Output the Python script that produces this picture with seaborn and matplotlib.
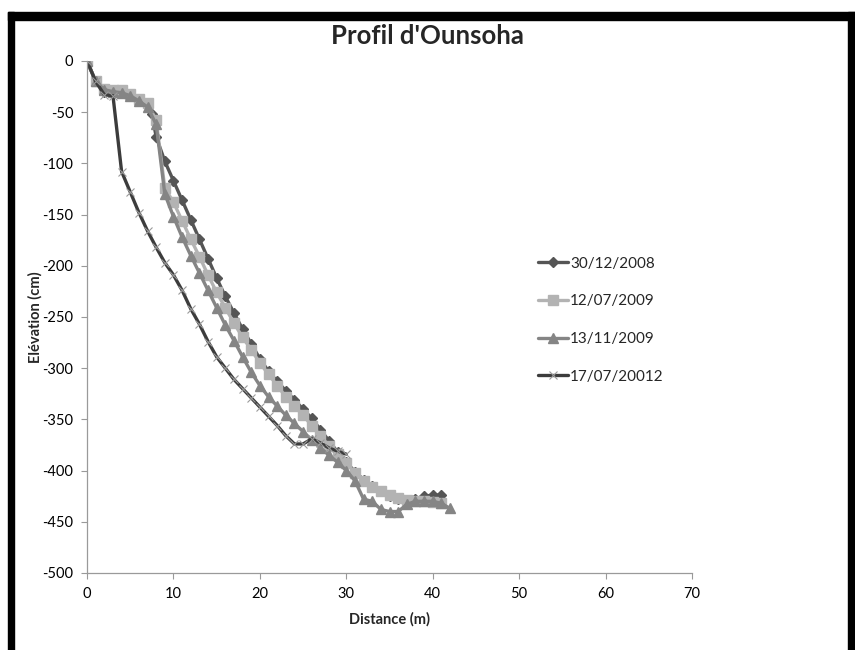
import matplotlib
matplotlib.use("Agg")
import matplotlib.pyplot as plt
import seaborn as sns
import pandas as pd

# Survey dates (legend labels)
series_labels = ["30/12/2008", "12/07/2009", "13/11/2009", "17/07/20012"]

# Profile 30/12/2008
dist_2008_12 = [0, 1, 2, 3, 4, 5, 6, 7, 7.5, 8, 9, 10, 11, 12, 13, 14, 15, 16, 17, 18,
                19, 20, 21, 22, 23, 24, 25, 26, 27, 28, 29, 30, 31, 32, 33, 34, 35, 36,
                37, 38, 39, 40, 41]
elev_2008_12 = [0, -20, -30, -31, -31, -34, -38, -44, -52, -74, -98, -117, -136, -155,
                -174, -193, -212, -230, -246, -262, -276, -291, -303, -313, -322, -331,
                -340, -349, -360, -371, -382, -392, -401, -409, -415, -420, -425, -428,
                -430, -428, -425, -424, -424]

# Profile 12/07/2009
dist_2009_07 = [0, 1, 2, 3, 4, 5, 6, 7, 8, 9, 10, 11, 12, 13, 14, 15, 16, 17, 18, 19,
                20, 21, 22, 23, 24, 25, 26, 27, 28, 29, 30, 31, 32, 33, 34, 35, 36, 37,
                38, 39, 40, 41]
elev_2009_07 = [0, -20, -27, -28, -28, -32, -37, -41, -58, -124, -138, -156, -174, -191,
                -209, -226, -241, -256, -270, -282, -295, -306, -317, -328, -337, -346,
                -356, -366, -376, -384, -393, -402, -410, -416, -420, -424, -427, -429,
                -430, -430, -431, -432]

# Profile 13/11/2009
dist_2009_11 = [0, 1, 2, 3, 4, 5, 6, 7, 8, 9, 10, 11, 12, 13, 14, 15, 16, 17, 18, 19,
                20, 21, 22, 23, 24, 25, 26, 27, 28, 29, 30, 31, 32, 33, 34, 35, 36, 37,
                38, 39, 40, 41, 42]
elev_2009_11 = [0, -20, -28, -30, -31, -34, -39, -45, -62, -130, -152, -172, -190, -207,
                -224, -241, -258, -273, -289, -304, -317, -328, -337, -346, -354, -362,
                -370, -378, -385, -392, -400, -410, -428, -430, -438, -440, -440, -433,
                -430, -430, -430, -432, -437]

# Profile 17/07/2012
dist_2012_07 = [0, 1, 2, 3, 4, 5, 6, 7, 8, 9, 10, 11, 12, 13, 14, 15, 16, 17, 18, 19,
                20, 21, 22, 23, 24, 25, 26, 27, 28, 29, 30]
elev_2012_07 = [0, -20, -33, -34, -108, -128, -148, -166, -182, -197, -209, -224, -242,
                -257, -274, -289, -300, -311, -320, -329, -338, -347, -356, -366, -374,
                -374, -369, -373, -378, -381, -384]

x_ticks = [0, 10, 20, 30, 40, 50, 60, 70]
y_ticks = [0, -50, -100, -150, -200, -250, -300, -350, -400, -450, -500]

sns.set_theme(style="white")
plt.rcParams["font.family"] = ["Lato", "DejaVu Sans"]
plt.rcParams["axes.unicode_minus"] = False

fig = plt.figure(figsize=(8.55, 6.5), dpi=100)
ax = fig.add_axes([0.1018, 0.1185, 0.7076, 0.7877])

styles = [
    (dist_2008_12, elev_2008_12, "#555555", "D", 5, 1.0),
    (dist_2009_07, elev_2009_07, "#b3b3b3", "s", 7, 1.0),
    (dist_2009_11, elev_2009_11, "#858585", "^", 7, 1.0),
    (dist_2012_07, elev_2012_07, "#3c3c3c", "x", 6, 0.8),
]
for (xs, ys, col, mk, ms, mew), lab in zip(styles, series_labels):
    df = pd.DataFrame({"Distance": xs, "Elevation": ys})
    sns.lineplot(data=df, x="Distance", y="Elevation", ax=ax, color=col,
                 marker=mk, markersize=ms, markeredgewidth=mew,
                 markeredgecolor=(col if mk != "x" else "#9a9a9a"),
                 linewidth=2.4, label=lab, sort=False, estimator=None)

ax.set_xlim(0, 70)
ax.set_ylim(-500, 0)
ax.set_xticks(x_ticks)
ax.set_yticks(y_ticks)
ax.set_xticklabels([str(v) for v in x_ticks])
ax.set_yticklabels([str(v) for v in y_ticks])
ax.tick_params(axis="both", labelsize=10.5, colors="#000000",
               direction="out", length=4, width=0.8, color="#999999",
               bottom=True, left=True, pad=6)

for side in ["top", "right"]:
    ax.spines[side].set_visible(False)
for side in ["left", "bottom"]:
    ax.spines[side].set_color("#9a9a9a")
    ax.spines[side].set_linewidth(0.9)

ax.set_xlabel("Distance (m)", fontsize=10.5, fontweight="bold", labelpad=8)
ax.set_ylabel("Elévation (cm)", fontsize=10.5, fontweight="bold", labelpad=0)
fig.text(0.5, 1 - 36 / 650, "Profil d'Ounsoha", ha="center", va="center",
         fontsize=18.5, fontweight="bold")

leg = ax.legend(loc="center left", bbox_to_anchor=(0.735, 0.494), frameon=False,
                fontsize=11, labelspacing=1.55, handlelength=2.0,
                handletextpad=0.1, borderaxespad=0)

# Black frame around the figure
frame_kw = dict(transform=fig.transFigure, color="black", zorder=10, clip_on=False)
fig.patches.append(plt.Rectangle((8 / 855, 0), 6 / 855, 1 - 12 / 650, **frame_kw))
fig.patches.append(plt.Rectangle((8 / 855, 1 - 20 / 650), 1 - 8 / 855, 8 / 650, **frame_kw))
fig.patches.append(plt.Rectangle((1 - 7 / 855, 0), 7 / 855, 1 - 12 / 650, **frame_kw))

fig.savefig("out.png", dpi=100)
